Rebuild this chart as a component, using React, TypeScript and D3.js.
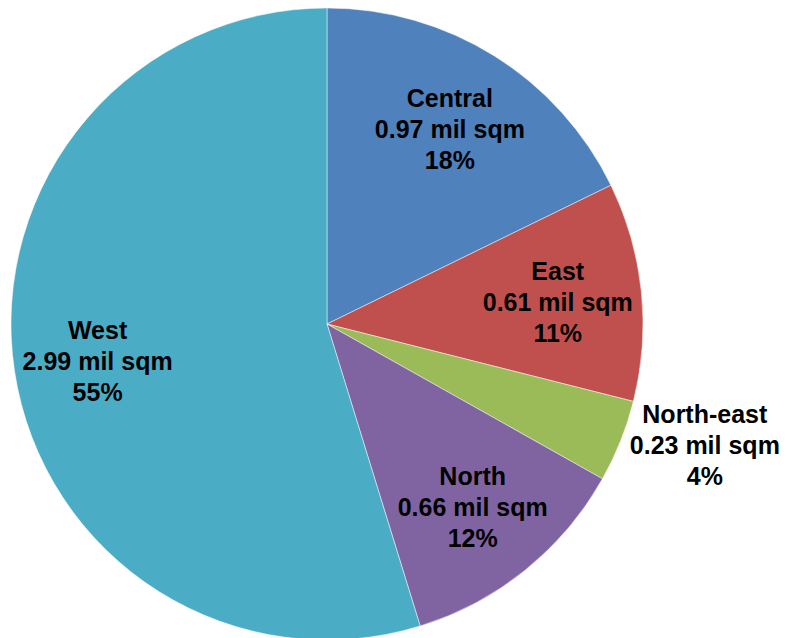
import * as d3 from 'd3';
import { useEffect, useRef } from 'react';

const regions = ['Central', 'East', 'North-east', 'North', 'West'];
const areas = [0.97, 0.61, 0.23, 0.66, 2.99];
const colors = ['#4F81BD', '#C0504D', '#9BBB59', '#8064A2', '#4BACC6'];
const outsideLabels = ['North-east'];

const dims = {
  width: 791,
  height: 638,
  cx: 327,
  cy: 324,
  radius: 316,
  labelRadius: 232,
  fontSize: 25,
  lineHeight: 31,
};

export default function App() {
  const svgRef = useRef(null);

  useEffect(() => {
    const svg = d3.select(svgRef.current);
    svg.selectAll('*').remove();

    const total = d3.sum(areas);
    const data = regions.map((name, i) => ({ name, value: areas[i], color: colors[i] }));

    const pie = d3
      .pie<any>()
      .sort(null)
      .value((d) => d.value);
    const arcs = pie(data);

    const arc = d3.arc<any>().innerRadius(0).outerRadius(dims.radius);
    const labelArc = d3
      .arc<any>()
      .innerRadius(dims.labelRadius)
      .outerRadius(dims.labelRadius);

    const g = svg
      .append('g')
      .attr('transform', 'translate(' + dims.cx + ',' + dims.cy + ')');

    g.selectAll('path')
      .data(arcs)
      .enter()
      .append('path')
      .attr('d', arc as any)
      .style('fill', (d) => d.data.color)
      .style('stroke', '#ffffff')
      .style('stroke-opacity', 0.6)
      .style('stroke-width', 0.8);

    arcs.forEach((d) => {
      const lines = [
        d.data.name,
        d.data.value.toFixed(2) + ' mil sqm',
        Math.round((d.data.value / total) * 100) + '%',
      ];
      const text = g
        .append('text')
        .attr('text-anchor', 'middle')
        .style('font-family', 'Liberation Sans, Arial, sans-serif')
        .style('font-weight', 'bold')
        .style('font-size', dims.fontSize + 'px')
        .style('fill', '#000000');

      lines.forEach((line, i) => {
        text
          .append('tspan')
          .attr('x', 0)
          .attr('y', (i - 1) * dims.lineHeight + 11)
          .text(line);
      });

      let x: number;
      let y: number;
      if (outsideLabels.includes(d.data.name)) {
        // outside label: box's near edge touches a point just beyond the rim
        const mid = (d.startAngle + d.endAngle) / 2;
        const r = dims.radius + 10;
        const px = r * Math.sin(mid);
        const py = -r * Math.cos(mid);
        const bbox = (text.node() as SVGTextElement).getBBox();
        x = px + (px >= 0 ? bbox.width / 2 : -bbox.width / 2);
        y = py - 2;
      } else {
        [x, y] = labelArc.centroid(d);
      }
      text.attr('transform', 'translate(' + x + ',' + y + ')');
    });
  }, []);

  return (
    <div>
      <svg
        ref={svgRef}
        width={dims.width}
        height={dims.height}
        style={{ position: 'absolute', left: 0, top: 0 }}
      ></svg>
    </div>
  );
}
